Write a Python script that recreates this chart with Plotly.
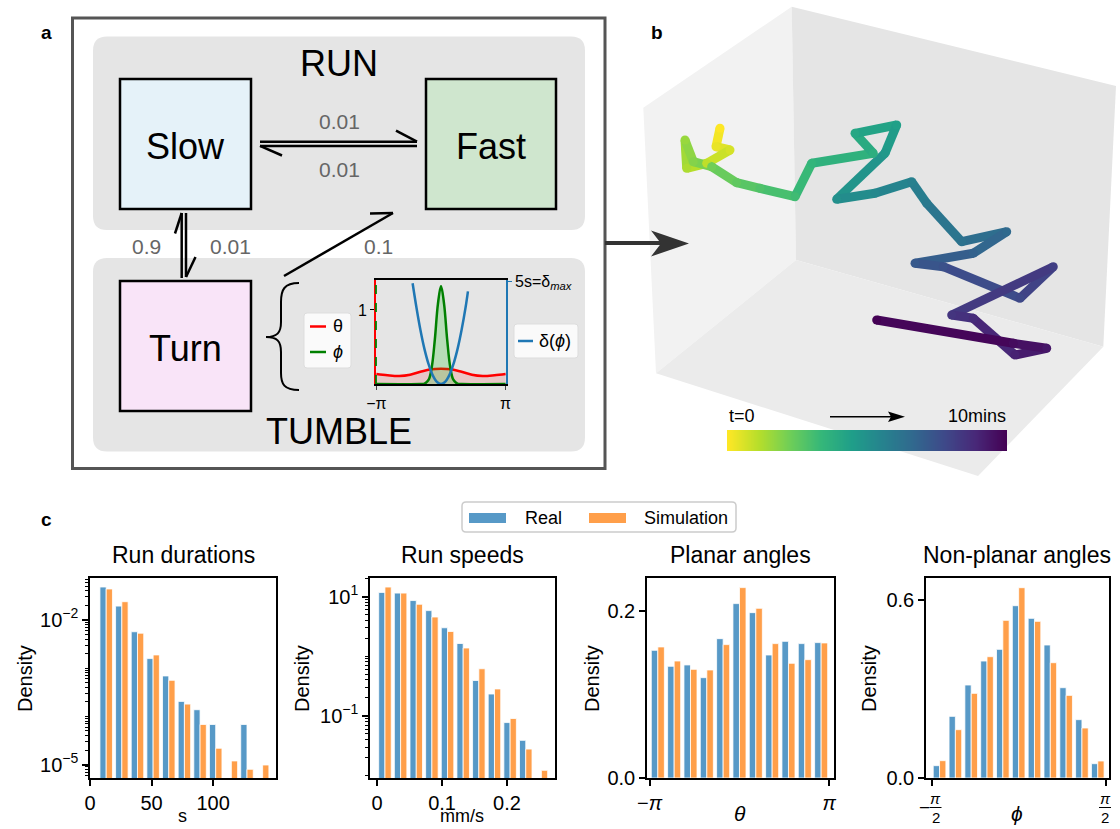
import numpy as np
import plotly.graph_objects as go
from plotly.colors import sample_colorscale

W, H = 1120, 829
FONT = "Liberation Sans, Arial, sans-serif"

# ---------------- data: panel c histograms ----------------
dur_bin_start, dur_bin_w = 6.8, 12.7
dur_real = [0.0478, 0.0192, 0.00565, 0.00157, 6.86e-4, 2.04e-4, 1.37e-4, 6.78e-5, None, 6.78e-5, None]
dur_sim = [0.0435, 0.0237, 0.00528, 0.00187, 5.57e-4, 1.79e-4, 6.78e-5, 2.18e-5, 1.19e-5, 7.98e-6, 9.8e-6]

spd_bin_start, spd_bin_w = 0.0, 0.0241
spd_real = [11.7, 11.4, 8.55, 5.80, 2.99, 1.63, 0.391, 0.232, 0.0771, 0.0388, None]
spd_sim = [14.4, 11.4, 7.41, 4.53, 2.59, 1.37, 0.615, 0.282, 0.0901, 0.0277, 0.0122]

planar_real = [0.1526, 0.1335, 0.1351, 0.1199, 0.1665, 0.2084, 0.1976, 0.1470, 0.1633, 0.1606, 0.1618]
planar_sim = [0.1566, 0.1398, 0.1299, 0.1291, 0.1594, 0.2275, 0.2028, 0.1606, 0.1371, 0.1414, 0.1614]

nonplanar_real = [0.0415, 0.2075, 0.3129, 0.3936, 0.4329, 0.5798, 0.5372, 0.4475, 0.3039, 0.1963, 0.0482]
nonplanar_sim = [0.0583, 0.1626, 0.2849, 0.4082, 0.5305, 0.6404, 0.5271, 0.3880, 0.2781, 0.1682, 0.0572]

hist_titles = ["Run durations", "Run speeds", "Planar angles", "Non-planar angles"]
series_names = ["Real", "Simulation"]

# ---------------- data: inset curves (panel a) ----------------
theta_x = [-3.14, -2.6, -2.03, -1.5, -1.0, -0.5, 0.0, 0.5, 1.0, 1.5, 2.03, 2.6, 3.14]
theta_y = [0.135, 0.118, 0.108, 0.125, 0.165, 0.198, 0.207, 0.198, 0.165, 0.125, 0.108, 0.118, 0.135]
phi_x = [-3.14, -1.0, -0.8, -0.6, -0.45, -0.3, -0.15, 0.0, 0.15, 0.3, 0.45, 0.6, 0.8, 1.0, 3.14]
phi_y = [0.0, 0.0, 0.005, 0.058, 0.226, 0.60, 1.08, 1.324, 1.08, 0.60, 0.226, 0.058, 0.005, 0.0, 0.0]
delta_x = [-1.38, -1.2, -1.0, -0.8, -0.6, -0.4, -0.2, 0.0, 0.2, 0.4, 0.6, 0.8, 1.0, 1.2, 1.31]
delta_y = [4.89, 3.75, 2.62, 1.68, 0.95, 0.42, 0.105, 0.0, 0.105, 0.42, 0.95, 1.68, 2.62, 3.75, 4.5]

# ---------------- data: trajectory (panel b, projected) ----------------
traj_x = [720.0, 716.0, 730.0, 706.7, 686.7, 685.0, 693.3, 711.7, 736.7, 760.0, 795.0, 811.7,
          873.3, 855.0, 896.7, 885.0, 836.7, 875.0, 911.7, 926.7, 961.7, 1006.7, 973.3, 915.0,
          943.3, 1020.0, 1053.3, 951.7, 973.3, 1015.0, 1046.7, 1013.3, 876.7]
traj_y = [128.3, 146.7, 150.0, 163.3, 168.3, 140.0, 161.7, 166.7, 182.7, 188.3, 196.7, 163.3,
          153.3, 133.3, 125.0, 153.3, 199.3, 193.3, 181.7, 203.3, 241.7, 231.7, 253.3, 263.3,
          266.7, 298.3, 266.7, 315.0, 318.3, 355.0, 348.3, 343.3, 320.0]

BLUE = "#5799c7"
ORANGE = "#ff9f4a"


def dom(x0, x1, y0, y1):
    return [x0 / W, x1 / W], [1 - y1 / H, 1 - y0 / H]


fig = go.Figure()
shapes = []
ann = []


def line(x0, y0, x1, y1, color="black", width=2.5, dash=None):
    d = dict(type="line", xref="x", yref="y", x0=x0, y0=y0, x1=x1, y1=y1,
             line=dict(color=color, width=width), layer="above")
    if dash:
        d["line"]["dash"] = dash
    shapes.append(d)


def rect(x0, y0, x1, y1, fill, lc="black", lw=2.5, layer="below"):
    shapes.append(dict(type="rect", xref="x", yref="y", x0=x0, y0=y0, x1=x1, y1=y1,
                       fillcolor=fill, line=dict(color=lc, width=lw), layer=layer))


def rrect(x0, y0, x1, y1, r, fill, lc=None, lw=0, layer="below"):
    p = (f"M {x0+r},{y0} L {x1-r},{y0} Q {x1},{y0} {x1},{y0+r} L {x1},{y1-r} "
         f"Q {x1},{y1} {x1-r},{y1} L {x0+r},{y1} Q {x0},{y1} {x0},{y1-r} "
         f"L {x0},{y0+r} Q {x0},{y0} {x0+r},{y0} Z")
    shapes.append(dict(type="path", xref="x", yref="y", path=p, fillcolor=fill,
                       line=dict(color=lc or fill, width=lw), layer=layer))


def text(x, y, s, size, color="black", xanchor="center", bold=False, angle=0, yanchor="middle"):
    if bold:
        s = f"<b>{s}</b>"
    ann.append(dict(x=x, y=y, xref="x", yref="y", text=s, showarrow=False,
                    xanchor=xanchor, yanchor=yanchor, textangle=angle,
                    font=dict(size=size, color=color, family=FONT)))


# ---------------- base pixel canvas ----------------
A, B, C, D = (791.7, 6.7), (796, 260), (643.3, 107.7), (656, 373.3)
E, F, G = (1116, 86), (1103.3, 346.7), (978, 476)


def poly(pts, fill):
    p = "M " + " L ".join(f"{x},{y}" for x, y in pts) + " Z"
    shapes.append(dict(type="path", xref="x", yref="y", path=p, fillcolor=fill,
                       line=dict(width=0), layer="below"))


poly([C, A, B, D], "#f2f2f2")
poly([A, E, F, B], "#e5e5e5")
poly([D, B, F, G], "#ebebeb")

N = len(traj_x)
for i in range(N - 1):
    c = sample_colorscale("Viridis", [1 - (i + 0.5) / (N - 1)])[0]
    fig.add_trace(go.Scatter(x=traj_x[i:i + 2], y=traj_y[i:i + 2], mode="lines",
                             line=dict(color=c, width=9), hoverinfo="skip",
                             showlegend=False, xaxis="x", yaxis="y"))
fig.add_trace(go.Scatter(x=traj_x, y=traj_y, mode="markers",
                         marker=dict(size=9, color=[1 - i / (N - 1) for i in range(N)],
                                     colorscale="Viridis", cmin=0, cmax=1, line=dict(width=0)),
                         hoverinfo="skip", showlegend=False, xaxis="x", yaxis="y"))

cb_x = np.arange(728, 1008, 2)
fig.add_trace(go.Heatmap(x=cb_x, y=[435.25, 445.75],
                         z=[np.linspace(0, 1, len(cb_x)), np.linspace(0, 1, len(cb_x))],
                         colorscale="Viridis", reversescale=True, showscale=False,
                         zsmooth="best", hoverinfo="skip", xaxis="x", yaxis="y"))
text(727, 416, "t=0", 18, xanchor="left")
text(1008, 416, "10mins", 18, xanchor="right")
line(830, 416.7, 893, 416.7, width=1.5)
shapes.append(dict(type="path", xref="x", yref="y",
                   path="M 905,416.7 L 888,411.5 L 891,416.7 L 888,421.9 Z",
                   fillcolor="black", line=dict(width=0), layer="above"))

line(605, 243, 666, 243, color="#333333", width=4)
shapes.append(dict(type="path", xref="x", yref="y",
                   path="M 689,243.5 L 651,230.5 L 661,243.5 L 651,256.5 Z",
                   fillcolor="#333333", line=dict(width=0), layer="above"))

rect(72.5, 18, 605, 468.5, "white", lc="#555555", lw=3)
rrect(93, 36.5, 585, 230, 14, "#e5e5e5")
rrect(93, 258, 585, 451.5, 14, "#e5e5e5")
rect(120, 79, 251, 209, "#e5f2f9")
rect(426, 79, 556, 209, "#cfe6ce")
rect(120, 281, 251, 411, "#f9e4f8")

text(339, 63, "RUN", 36)
text(185.5, 146, "Slow", 36)
text(491, 146, "Fast", 36)
text(185.5, 348, "Turn", 36)
text(339, 431, "TUMBLE", 36)

line(260, 141.7, 417, 141.7)
line(417, 141.7, 396, 130.7)
line(260, 145.9, 417, 145.9)
line(260, 145.9, 282, 155.5)
text(339, 121, "0.01", 21, color="#666666")
text(339, 169, "0.01", 21, color="#666666")

line(181.7, 213, 181.7, 278)
line(181.7, 213, 175, 233.5)
line(186, 213, 186, 277)
line(186, 277, 195.5, 257)
text(146, 246, "0.9", 21, color="#666666")
text(230, 246, "0.01", 21, color="#666666")

line(284, 276, 393, 213)
line(393, 213, 370, 213.5)
text(378, 246, "0.1", 21, color="#666666")

shapes.append(dict(type="path", xref="x", yref="y",
                   path=("M 299,283 C 284,283 281,290 281,302 L 281,322 C 281,333 277,337 266,337 "
                         "C 277,337 281,341 281,352 L 281,373 C 281,384 284,390 299,390"),
                   line=dict(color="black", width=2), layer="above"))

rrect(304, 313, 351, 368, 3, "#fafafa", lc="#dddddd", lw=1, layer="above")
line(310, 326.5, 326, 326.5, color="red", width=2.5)
line(310, 352, 326, 352, color="green", width=2.5)
text(331, 326, "θ", 18, xanchor="left")
text(331, 352, "<i>ϕ</i>", 18, xanchor="left")
rrect(514, 324, 578, 358, 3, "#fafafa", lc="#dddddd", lw=1, layer="above")
line(518, 341, 533, 341, color="#1f77b4", width=2.5)
text(537, 341, "δ(<i>ϕ</i>)", 18, xanchor="left")

text(46, 32, "a", 19, bold=True)
text(657, 32, "b", 19, bold=True)
text(46, 519, "c", 19, bold=True)

rrect(462, 502, 736, 532, 4, "white", lc="#cccccc", lw=1.5, layer="above")
rect(469, 513, 506, 523, BLUE, lc=BLUE, lw=0, layer="above")
rect(589, 513, 626, 523, ORANGE, lc=ORANGE, lw=0, layer="above")
text(523, 518, series_names[0], 18, xanchor="left")
text(642, 518, series_names[1], 18, xanchor="left")

# ---------------- panel c histograms ----------------
hist_px = [(90, 276), (370, 555), (647, 834), (926, 1109)]
centers = [
    dur_bin_start + dur_bin_w * (np.arange(11) + 0.5),
    spd_bin_start + spd_bin_w * (np.arange(11) + 0.5),
    -np.pi + (2 * np.pi / 11) * (np.arange(11) + 0.5),
    -np.pi / 2 + (np.pi / 11) * (np.arange(11) + 0.5),
]
datas = [(dur_real, dur_sim), (spd_real, spd_sim), (planar_real, planar_sim),
         (nonplanar_real, nonplanar_sim)]
for k in range(4):
    xa, ya = f"x{k+2}", f"y{k+2}"
    for vals, col, nm in [(datas[k][0], BLUE, series_names[0]), (datas[k][1], ORANGE, series_names[1])]:
        fig.add_trace(go.Bar(x=centers[k], y=vals, marker=dict(color=col, line=dict(color="white", width=0.8)),
                             name=nm, showlegend=False, xaxis=xa, yaxis=ya))


def minor_vals(lo, hi, skip):
    out = []
    for n in range(int(np.floor(lo)) - 1, int(np.ceil(hi)) + 1):
        for m in range(1, 10):
            v = m * 10.0 ** n
            if lo <= np.log10(v) <= hi and not any(abs(v - s) / s < 1e-6 for s in skip):
                out.append(v)
    return out


axis_common = dict(showline=True, mirror=True, linecolor="black", linewidth=1.5,
                   ticks="outside", ticklen=6, tickwidth=1.5, tickcolor="black",
                   showgrid=False, zeroline=False, fixedrange=True, automargin=False,
                   tickfont=dict(size=20, family=FONT, color="black"))

layout = dict(width=W, height=H, autosize=False,
              margin=dict(l=0, r=0, t=0, b=0, pad=0, autoexpand=False),
              paper_bgcolor="white", plot_bgcolor="rgba(0,0,0,0)",
              barmode="group", bargap=0.2, bargroupgap=0, showlegend=False,
              font=dict(family=FONT))
layout["xaxis"] = dict(domain=[0, 1], range=[0, W], visible=False, fixedrange=True, automargin=False)
layout["yaxis"] = dict(domain=[0, 1], range=[H, 0], visible=False, fixedrange=True, automargin=False)

yr = [[-5.278, -1.134], [-2.042, 1.31], [0, 0.239], [0, 0.673]]
xr = [[0, 151], [-0.011, 0.274], [-np.pi - 0.093, np.pi + 0.164], [-np.pi / 2 - 0.102, np.pi / 2 + 0.06]]
for k in range(4):
    dx, dy = dom(hist_px[k][0], hist_px[k][1], 578, 778)
    xa = dict(axis_common, domain=dx, range=xr[k], anchor=f"y{k+2}")
    ya = dict(axis_common, domain=dy, range=yr[k], anchor=f"x{k+2}")
    if k == 0:
        xa.update(tickvals=[0, 50, 100], ticktext=["0", "50", "100"])
        ya.update(type="log", tickvals=[1e-5, 1e-2], ticktext=["10<sup>−5</sup>", "10<sup>−2</sup>"],
                  minor=dict(tickmode="array", tickvals=minor_vals(-5.278, -1.134, [1e-5, 1e-2]),
                             ticks="outside", ticklen=3.5, tickwidth=1, tickcolor="black"))
    elif k == 1:
        xa.update(tickvals=[0, 0.1, 0.2], ticktext=["0", "0.1", "0.2"])
        ya.update(type="log", tickvals=[0.1, 10], ticktext=["10<sup>−1</sup>", "10<sup>1</sup>"],
                  minor=dict(tickmode="array", tickvals=minor_vals(-2.042, 1.31, [0.1, 10]),
                             ticks="outside", ticklen=3.5, tickwidth=1, tickcolor="black"))
    elif k == 2:
        xa.update(tickvals=[-np.pi, np.pi], ticktext=["−<i>π</i>", "<i>π</i>"])
        ya.update(tickvals=[0, 0.2], ticktext=["0.0", "0.2"])
    else:
        xa.update(tickvals=[-np.pi / 2, np.pi / 2], showticklabels=False)
        ya.update(tickvals=[0, 0.6], ticktext=["0.0", "0.6"])
    layout[f"xaxis{k+2}"] = xa
    layout[f"yaxis{k+2}"] = ya

title_x = [183, 462, 740, 1017]
dens_x = [25, 302, 592, 869]
for k in range(4):
    text(title_x[k], 555, hist_titles[k], 23)
    text(dens_x[k], 679, "Density", 20, angle=-90)
text(182, 828, "s", 18, yanchor="bottom")
text(462, 828, "mm/s", 18, yanchor="bottom")
text(740, 813, "<i>θ</i>", 21)
text(1017, 813, "<i>ϕ</i>", 21)

text(924, 807, "−", 19)
for cx in (935.5, 1105):
    text(cx, 798, "<i>π</i>", 15)
    text(cx, 817, "2", 15)
    line(cx - 6, 807.5, cx + 6, 807.5, width=1)

# ---------------- inset axes ----------------
idx, idy = dom(376, 506, 280, 384)
small = dict(size=16, family=FONT, color="black")
layout["xaxis6"] = dict(domain=idx, range=[-3.16, 3.16], anchor="y6", showline=True, mirror=True,
                        linecolor="black", linewidth=1.8, ticks="outside", ticklen=4, tickwidth=1.2,
                        tickvals=[-np.pi, np.pi], ticktext=["−π", "π"], tickfont=small,
                        showgrid=False, zeroline=False, fixedrange=True, automargin=False)
layout["yaxis6"] = dict(domain=idy, range=[0, 1.405], anchor="x6", showline=True, linecolor="red",
                        linewidth=1.8, ticks="outside", ticklen=4, tickwidth=1.2, tickcolor="black",
                        tickvals=[1], ticktext=["1"], tickfont=small, showgrid=False,
                        zeroline=False, fixedrange=True, automargin=False)
layout["yaxis7"] = dict(domain=idy, range=[0, 5.05], anchor="x6", overlaying="y6", side="right",
                        showline=True, linecolor="#1f77b4", linewidth=1.8, ticks="outside",
                        ticklen=4, tickwidth=1.2, tickcolor="#1f77b4", tickvals=[5],
                        ticktext=["5s=δ<sub><i>max</i></sub>"], tickfont=small, showgrid=False,
                        zeroline=False, fixedrange=True, automargin=False)
fig.add_trace(go.Scatter(x=theta_x, y=theta_y, mode="lines", line=dict(color="red", width=2.5, shape="spline"),
                         fill="tozeroy", fillcolor="rgba(255,0,0,0.13)", xaxis="x6", yaxis="y6",
                         hoverinfo="skip", showlegend=False))
fig.add_trace(go.Scatter(x=phi_x, y=phi_y, mode="lines", line=dict(color="green", width=2.5, shape="spline"),
                         fill="tozeroy", fillcolor="rgba(0,190,0,0.2)", xaxis="x6", yaxis="y6",
                         hoverinfo="skip", showlegend=False))
fig.add_trace(go.Scatter(x=delta_x, y=delta_y, mode="lines", line=dict(color="#1f77b4", width=2.5, shape="spline"),
                         xaxis="x6", yaxis="y7", hoverinfo="skip", showlegend=False))
shapes.append(dict(type="line", xref="x6 domain", yref="y6 domain", x0=0, x1=0, y0=0, y1=1,
                   line=dict(color="green", width=1.8, dash="dash"), layer="above"))

layout["shapes"] = shapes
layout["annotations"] = ann
fig.update_layout(**layout)
fig.write_html("out.html", config={"displayModeBar": False},
               include_plotlyjs=True, full_html=True)
